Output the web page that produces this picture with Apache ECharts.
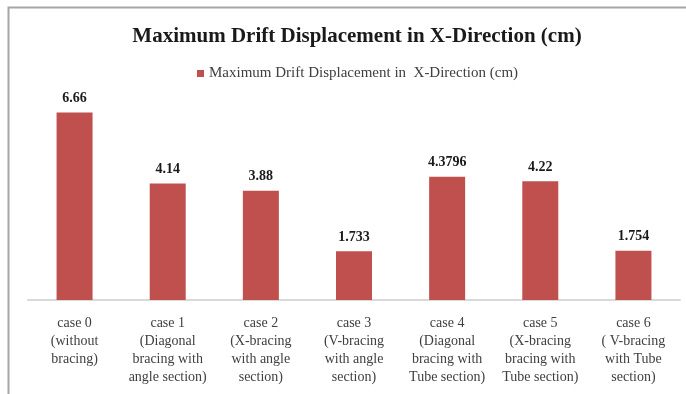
<!DOCTYPE html>
<html>
<head>
<meta charset="utf-8">
<script src="https://cdn.jsdelivr.net/npm/echarts@6/dist/echarts.min.js"></script>
<style>
  html, body { margin: 0; padding: 0; background: #fff; }
  #chart { width: 686px; height: 394px; }
</style>
</head>
<body>
<div id="chart"></div>
<script>
// 数据
const categories = [
  'case 0\n(without\nbracing)',
  'case 1\n(Diagonal\nbracing with\nangle section)',
  'case 2\n(X-bracing\nwith angle\nsection)',
  'case 3\n(V-bracing\nwith angle\nsection)',
  'case 4\n(Diagonal\nbracing with\nTube section)',
  'case 5\n(X-bracing\nbracing with\nTube section)',
  'case 6\n( V-bracing\nwith Tube\nsection)'
];
const driftValues = [6.66, 4.14, 3.88, 1.733, 4.3796, 4.22, 1.754];
const seriesName = 'Maximum Drift Displacement in  X-Direction (cm)';

const serif = '"Times New Roman", "Liberation Serif", serif';

let myChart = echarts.init(document.querySelector('#chart'));
myChart.setOption({
  animation: false,
  title: {
    text: 'Maximum Drift Displacement in X-Direction (cm)',
    left: 352,
    textAlign: 'center',
    top: 21,
    textStyle: { fontFamily: serif, fontSize: 21, fontWeight: 'bold', color: '#1a1a1a' }
  },
  legend: {
    data: [seriesName],
    top: 61,
    left: 192,
    itemWidth: 7,
    itemHeight: 7,
    itemGap: 4,
    icon: 'rect',
    textStyle: { fontFamily: serif, fontSize: 15, color: '#404040' }
  },
  // 边框
  graphic: [{
    type: 'rect',
    shape: { x: 8.5, y: 7.5, width: 700, height: 400 },
    style: { fill: 'none', stroke: '#a6a6a6', lineWidth: 2 },
    silent: true
  }],
  grid: { left: 28, right: 6, top: 103, bottom: 94 },
  xAxis: {
    type: 'category',
    data: categories,
    axisTick: { show: false },
    axisLine: { lineStyle: { color: '#d9d9d9', width: 2 } },
    axisLabel: {
      interval: 0,
      margin: 14,
      lineHeight: 18,
      fontFamily: serif,
      fontSize: 14,
      color: '#404040'
    }
  },
  yAxis: {
    type: 'value',
    min: 0,
    max: 7,
    show: false,
    splitLine: { show: false }
  },
  series: [{
    name: seriesName,
    type: 'bar',
    data: driftValues,
    barWidth: 36,
    itemStyle: { color: '#C0504D' },
    label: {
      show: true,
      position: 'top',
      distance: 7,
      fontFamily: serif,
      fontSize: 14,
      fontWeight: 'bold',
      color: '#1a1a1a'
    }
  }]
});
</script>
</body>
</html>
